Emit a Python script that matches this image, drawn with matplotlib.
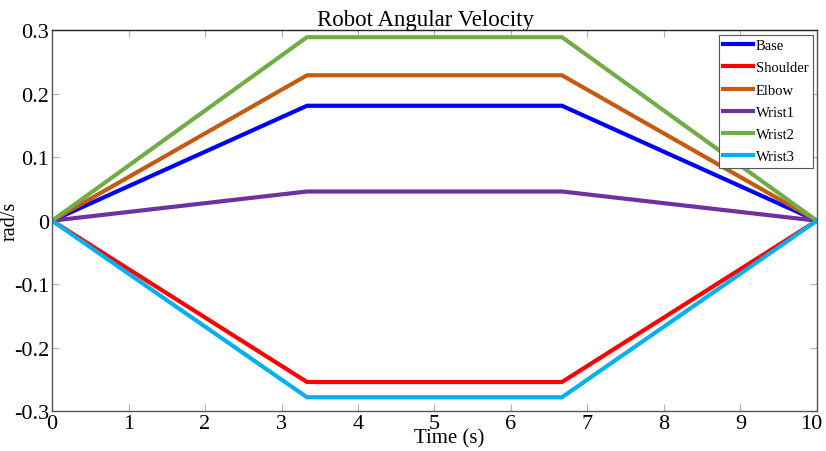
import matplotlib.pyplot as plt
import matplotlib.transforms as mtransforms

plt.rcParams["font.family"] = ["Liberation Serif", "DejaVu Serif"]
plt.rcParams["axes.unicode_minus"] = False

# trapezoidal velocity profile: ramp up, cruise, ramp down
time_pts = [0, 10 / 3, 20 / 3, 10]
joints = ["Base", "Shoulder", "Elbow", "Wrist1", "Wrist2", "Wrist3"]
peak_vel = [0.181, -0.254, 0.229, 0.046, 0.289, -0.278]
colors = ["#0000ff", "#ff0000", "#c55a11", "#7030a0", "#70ad47", "#00b0f0"]

x_ticks = list(range(0, 11))
y_ticks = [-0.3, -0.2, -0.1, 0, 0.1, 0.2, 0.3]
y_tick_labels = ["-0.3", "-0.2", "-0.1", "0", "0.1", "0.2", "0.3"]


def main():
    fig = plt.figure(figsize=(8.26, 4.52), dpi=100)
    ax = fig.add_axes([0.063, 0.088, 0.926, 0.843])

    for name, vp, c in zip(joints, peak_vel, colors):
        ax.plot(time_pts, [0, vp, vp, 0], color=c, lw=3, label=name,
                solid_joinstyle="miter")

    ax.set_xlim(0, 10)
    ax.set_ylim(-0.3, 0.3)
    ax.set_xticks(x_ticks)
    ax.set_yticks(y_ticks)
    ax.set_yticklabels(y_tick_labels)
    ax.tick_params(direction="in", length=5, width=0.8, color="#b0b0b0",
                   labelsize=16, pad=2, top=True, right=True)
    for s in ax.spines.values():
        s.set_color("#555555")
        s.set_linewidth(1.0)
    ax.spines["top"].set_color("#222222")

    # keep the last x label inside the figure edge
    last = ax.get_xticklabels()[-1]
    last.set_transform(last.get_transform() +
                       mtransforms.ScaledTranslation(-6 / 100, 0, fig.dpi_scale_trans))

    ax.set_title("Robot Angular Velocity", fontsize=16.5, pad=4, x=0.488)
    ax.set_xlabel("Time (s)", fontsize=15)
    ax.xaxis.set_label_coords(0.519, -0.045)
    ax.set_ylabel("rad/s", fontsize=14.5, labelpad=-4)

    leg = ax.legend(loc="upper right", fontsize=10.5, handlelength=2.0,
                    handletextpad=0.2, labelspacing=0.62, borderpad=0.3,
                    fancybox=False, framealpha=1, borderaxespad=0.3)
    leg.get_frame().set_edgecolor("#555555")
    leg.get_frame().set_linewidth(0.8)

    fig.savefig("out.png", dpi=100)


if __name__ == "__main__":
    main()
